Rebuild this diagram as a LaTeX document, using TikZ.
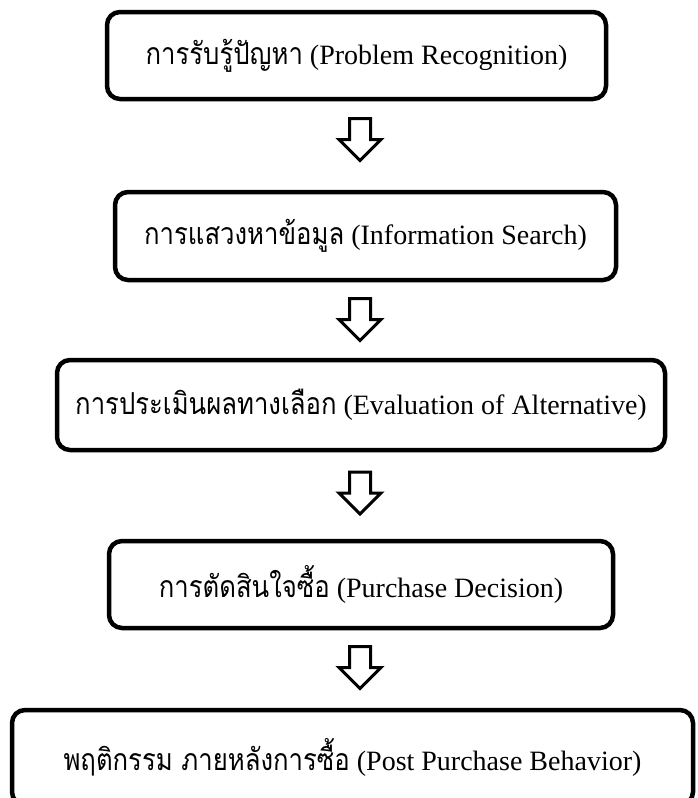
\documentclass[tikz,border=0pt]{standalone}
\usepackage{graphicx}
\usepackage{fontspec}
\setmainfont{Liberation Serif}
\newfontfamily\thaifont[Script=Thai,Scale=1.08]{Loma}
\newcommand\thaitext[1]{\scalebox{0.85}[1]{\thaifont #1}}
\begin{document}
\begin{tikzpicture}[x=1pt,y=-1pt,
  stage/.style={draw=black, line width=4.5pt, rounded corners=13pt, inner sep=0pt,
    font=\fontsize{28}{33}\selectfont},
  blockarrow/.style={draw=black, line width=3pt, fill=white, line join=miter},
  downarrow/.pic={\draw[blockarrow] (-10.5,0) -- (10.5,0) -- (10.5,21) -- (21,21)
      -- (0,42) -- (-21,21) -- (-10.5,21) -- cycle;}]
\useasboundingbox (0,0) rectangle (697,798);
\clip (0,0) rectangle (697,798);
\node[stage, minimum width=499pt, minimum height=87pt] (b1) at (356.5,55.5)
  {\thaitext{การรับรู้ปัญหา} (Problem Recognition)};
\node[stage, minimum width=501pt, minimum height=88pt] (b2) at (365.5,236)
  {\thaitext{การแสวงหาข้อมูล} (Information Search)};
\node[stage, minimum width=608pt, minimum height=90pt] (b3) at (361,405)
  {\thaitext{การประเมินผลทางเลือก} (Evaluation of Alternative)};
\node[stage, minimum width=504pt, minimum height=87pt] (b4) at (361,584.5)
  {\thaitext{การตัดสินใจซื้อ} (Purchase Decision)};
\node[stage, minimum width=681pt, minimum height=95pt] (b5) at (352.5,757.5)
  {\thaitext{พฤติกรรม ภายหลังการซื้อ} (Post Purchase Behavior)};
\pic (a1) at (360,118.5) {downarrow};
\pic (a2) at (360,298.5) {downarrow};
\pic (a3) at (360,472) {downarrow};
\pic (a4) at (360,646.5) {downarrow};
\end{tikzpicture}
\end{document}
